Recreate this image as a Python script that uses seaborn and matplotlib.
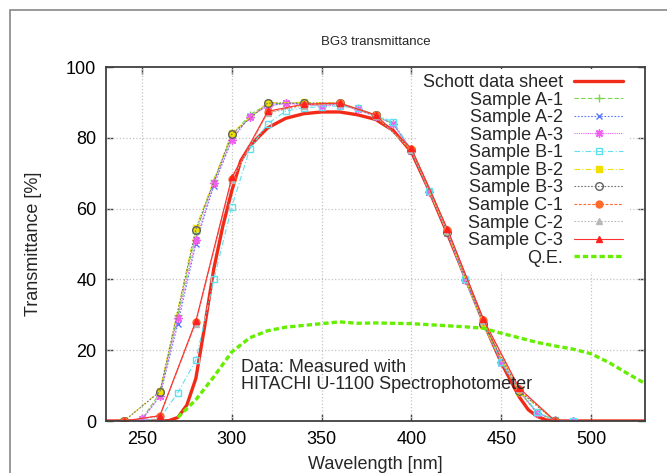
import matplotlib
matplotlib.use("Agg")
import matplotlib.pyplot as plt
import seaborn as sns
from matplotlib.patches import Rectangle

# wavelengths [nm]
wl_10 = list(range(240, 500, 10))
wl_20 = list(range(240, 500, 20))
wl_schott = [230, 240, 250, 260, 265, 270, 275, 280, 285, 290, 295, 300, 305, 310, 315,
             320, 330, 340, 350, 360, 370, 380, 390, 400, 410, 420, 430, 440, 450, 460,
             465, 470, 475, 480, 490, 500, 510, 520, 530]
wl_qe = list(range(270, 540, 10))

# transmittance [%]
schott = [0, 0, 0, 0, 0.1, 1, 4.5, 12, 27, 43, 55, 65, 73.5, 77.6, 80.3,
          82.8, 85.5, 86.8, 87.3, 87.3, 86.5, 85.2, 82, 76, 65, 53, 40.5, 28, 16.5, 6.8,
          3.2, 1.3, 0.3, 0, 0, 0, 0, 0, 0]
a1 = [0, 0.5, 8, 30, 53, 68, 80.5, 86.5, 89.5, 89.8, 89.8, 89.3, 89.7, 88.3, 86.3, 83.8,
      76.5, 65, 53.3, 40, 27.3, 16.5, 8.3, 2.3, 0.2, 0]
a2 = [0, 0.3, 7, 27.5, 50, 66.5, 79.3, 86.2, 89, 89.8, 89.5, 89.2, 89.5, 88, 86, 84,
      76.2, 64.8, 53.2, 39.8, 27.5, 16.5, 8.5, 2.3, 0.2, 0]
a3 = [0, 0.5, 7.2, 29, 51, 67.3, 79.5, 86, 89, 89.7, 89.4, 89, 89.4, 88, 86.2, 84,
      76.3, 64.7, 53, 39.8, 27.3, 16.7, 8.2, 2.3, 0.2, 0]
b1 = [0, 0, 0.8, 8, 17.2, 40, 60.5, 76.8, 84, 87.5, 88.5, 88.8, 89, 88.4, 86.5, 84.5,
      76.5, 65, 53.5, 40, 27.8, 16.8, 8.8, 2.5, 0.2, 0]
b2 = [0, 8.5, 54.6, 81.4, 89.9, 90, 89.9, 86.3, 76.5, 53.3, 27, 8.3, 0]
b3 = [0, 8.3, 54, 81, 89.8, 89.8, 89.8, 86.3, 76.5, 53.5, 27.3, 8.5, 0]
c1 = [0, 1.5, 28, 68.5, 87.2, 89.3, 89.7, 86.4, 76.8, 54, 28.5, 9, 0]
c2 = [0, 1.3, 27.5, 68, 87, 89, 89.5, 86.2, 76.6, 53.8, 28.3, 9, 0]
c3 = [0, 1.5, 28.2, 68.8, 87.5, 89.5, 89.8, 86.5, 77, 54.3, 28.8, 9.3, 0]
qe = [1, 6, 12.5, 19.5, 23.5, 25.5, 26.5, 27, 27.5, 28, 27.6, 27.7, 27.6, 27.5, 27.2,
      26.9, 26.6, 26.2, 24.8, 23.5, 22.2, 21.2, 20.3, 19, 16.5, 13.5, 10.6]

x_ticks = [250, 300, 350, 400, 450, 500]
y_ticks = [0, 20, 40, 60, 80, 100]

sns.set_style("ticks")
plt.rcParams["font.family"] = ["Liberation Sans", "DejaVu Sans"]

fig = plt.figure(figsize=(6.67, 4.73), dpi=100)
ax = fig.add_axes([106 / 667, 1 - 421 / 473, 539 / 667, 354 / 473])

# label, x, y, color, linestyle, lw, marker, facecolor, edgecolor, size
series = [
    ("Schott data sheet", wl_schott, schott, "#f22a18", "-", 2.4, None, None, None, 0),
    ("Sample A-1", wl_10, a1, "#7ad84a", (0, (4, 2)), 0.8, "+", "#7ad84a", "#7ad84a", 6),
    ("Sample A-2", wl_10, a2, "#5a78ff", (0, (1.5, 1.5)), 0.8, "x", "#5a78ff", "#5a78ff", 5),
    ("Sample A-3", wl_10, a3, "#f060f0", (0, (1, 1)), 0.8, (8, 2, 0), "#f060f0", "#f060f0", 6),
    ("Sample B-1", wl_10, b1, "#5ee0f0", (0, (5, 2, 1, 2)), 0.8, "s", "none", "#5ee0f0", 5),
    ("Sample B-2", wl_20, b2, "#f0e000", (0, (5, 2, 1, 2)), 0.8, "s", "#f0e000", "#f0e000", 5),
    ("Sample B-3", wl_20, b3, "#707070", (0, (1.5, 1.5)), 0.8, "o", "none", "#606060", 5.5),
    ("Sample C-1", wl_20, c1, "#ff6a2a", (0, (2.5, 1.5)), 0.8, "o", "#ff6a2a", "#ff6a2a", 5),
    ("Sample C-2", wl_20, c2, "#b8b8b8", (0, (1.5, 1.5)), 0.8, "^", "#b8b8b8", "#b8b8b8", 5),
    ("Sample C-3", wl_20, c3, "#ff3030", "-", 0.8, "^", "#ff2020", "#ff2020", 5),
    ("Q.E.", wl_qe, qe, "#66ee00", (0, (1.6, 0.9)), 2.4, None, None, None, 0),
]

for lab, x, y, col, ls, lw, mk, mfc, mec, ms in series:
    kw = dict(color=col, linestyle=ls, linewidth=lw, label=lab, ax=ax,
              sort=False, errorbar=None, zorder=2)
    if mk is not None:
        kw.update(marker=mk, markersize=ms, markerfacecolor=mfc,
                  markeredgecolor=mec, markeredgewidth=1)
    sns.lineplot(x=x, y=y, **kw)

ax.set_xlim(230, 530)
ax.set_ylim(0, 100)
ax.set_xticks(x_ticks)
ax.set_yticks(y_ticks)

# grid drawn by hand so the legend box can hide it while curves stay on top
for xv in x_ticks:
    ax.axvline(xv, color="#c4c4c4", linestyle=":", linewidth=0.9, zorder=0.8)
for yv in y_ticks[1:-1]:
    ax.axhline(yv, color="#c4c4c4", linestyle=":", linewidth=0.9, zorder=0.8)

ax.tick_params(direction="in", length=5, width=1, top=True, right=True,
               labelsize=13, pad=7, color="#404040", labelcolor="black")
for s in ax.spines.values():
    s.set_color("#404040")
    s.set_linewidth(1.3)

ax.set_title("BG3 transmittance", fontsize=9.5, pad=16)
ax.set_xlabel("Wavelength [nm]", fontsize=13, labelpad=6)
ax.set_ylabel("Transmittance [%]", fontsize=13, labelpad=17)

ax.text(305, 12.8, "Data: Measured with\nHITACHI U-1100 Spectrophotometer",
        fontsize=13, ha="left", va="center", linespacing=1.0)

leg = ax.legend(loc="upper right", bbox_to_anchor=(0.97, 0.995), markerfirst=False,
                fontsize=13, frameon=True, framealpha=1, edgecolor="none",
                facecolor="white", fancybox=False, handlelength=2.75,
                handletextpad=0.6, labelspacing=0.03, borderpad=0.3,
                borderaxespad=0)
leg.set_zorder(1)

# outer frame of the original page
fig.add_artist(Rectangle((10 / 667, -0.5), 2, 0.5 + 1 - 10 / 473,
                         transform=fig.transFigure, fill=False,
                         edgecolor="#888888", linewidth=1.2, clip_on=False))

fig.savefig("out.png", dpi=100)
